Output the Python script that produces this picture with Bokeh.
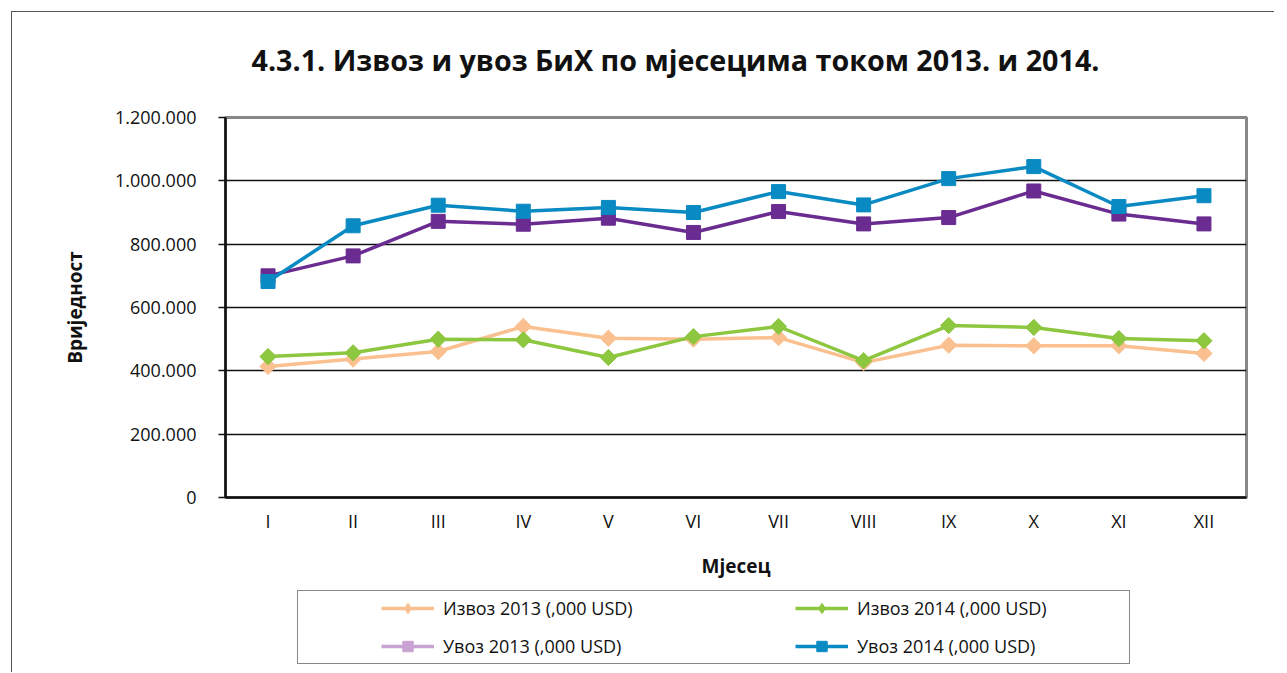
from bokeh.plotting import figure
from bokeh.layouts import column
from bokeh.models import FactorRange, Range1d, FixedTicker, Legend, LegendItem
from bokeh.embed import file_html
from bokeh.resources import INLINE
import numpy as np

# ---- data (thousand USD) ----
months = ["I", "II", "III", "IV", "V", "VI", "VII", "VIII", "IX", "X", "XI", "XII"]
izvoz_2013 = [414000, 437000, 461000, 540000, 503000, 500000, 505000, 426000, 481000, 479000, 479000, 455000]
izvoz_2014 = [445000, 457000, 500000, 498000, 442000, 508000, 540000, 432000, 543000, 537000, 502000, 495000]
uvoz_2013 = [700000, 763000, 872000, 863000, 882000, 837000, 903000, 864000, 884000, 968000, 895000, 864000]
uvoz_2014 = [682000, 858000, 923000, 904000, 916000, 900000, 966000, 924000, 1007000, 1045000, 919000, 953000]
series_names = ["Извоз 2013 (,000 USD)", "Извоз 2014 (,000 USD)", "Увоз 2013 (,000 USD)", "Увоз 2014 (,000 USD)"]
y_ticks = [0, 200000, 400000, 600000, 800000, 1000000, 1200000]
y_tick_labels = ["0", "200.000", "400.000", "600.000", "800.000", "1.000.000", "1.200.000"]

title_text = "4.3.1. Извоз и увоз  БиХ по мјесецима током 2013. и 2014."
FONT = "Open Sans"

C_IZ13 = "#FAC090"
C_IZ14 = "#8DC63F"
C_UV13 = "#6A2C91"
C_UV13_LEG = "#C8A2D0"
C_UV14 = "#0A8AC2"
LW = 3.5
W = 1262
BL, BR = 213, 28


def blank_strip(height):
    f = figure(width=W, height=height, x_range=Range1d(0, 1), y_range=Range1d(0, 1),
               x_axis_type=None, y_axis_type=None,
               output_backend="svg", toolbar_location=None,
               min_border_left=BL, min_border_right=BR, min_border_top=0, min_border_bottom=0)
    f.grid.visible = False
    f.outline_line_color = None
    f.background_fill_color = "white"
    f.border_fill_color = "white"
    return f


# ---------------- title strip ----------------
t = blank_strip(92)
t.title.text = title_text
t.title.align = "left"
t.title.offset = 26
t.title.text_font = FONT
t.title.text_font_style = "bold"
t.title.text_font_size = "28.7px"
t.title.text_color = "#111111"
t.title.standoff = 50

# ---------------- chart ----------------
p = figure(width=W, height=483,
           x_range=FactorRange(*months, range_padding=0),
           y_range=Range1d(0, 1200000),
           output_backend="svg", toolbar_location=None,
           min_border_left=BL, min_border_right=BR,
           min_border_top=13, min_border_bottom=90)
p.title.visible = False

p.background_fill_color = "white"
p.border_fill_color = "white"
p.outline_line_color = "#878787"
p.outline_line_width = 3

p.xgrid.visible = False
p.ygrid.ticker = FixedTicker(ticks=y_ticks[1:-1])
p.ygrid.grid_line_color = "#111111"
p.ygrid.grid_line_width = 1.5

for ax in (p.xaxis[0], p.yaxis[0]):
    ax.axis_line_color = "#111111"
    ax.axis_line_width = 2.5
    ax.major_tick_line_color = "#111111"
    ax.major_tick_line_width = 1.5
    ax.minor_tick_line_color = None
    ax.major_label_text_font = FONT
    ax.major_label_text_font_size = "18px"
    ax.major_label_text_color = "#111111"
    ax.axis_label_text_font = FONT
    ax.axis_label_text_font_style = "bold"
    ax.axis_label_text_font_size = "19px"
    ax.axis_label_text_color = "#111111"

p.xaxis.major_tick_out = 0
p.xaxis.major_tick_in = 0
p.xaxis.major_label_standoff = 11
p.xaxis.axis_label = "Мјесец"
p.xaxis.axis_label_standoff = 17

p.yaxis.ticker = FixedTicker(ticks=y_ticks)
p.yaxis.major_label_overrides = dict(zip(y_ticks, y_tick_labels))
p.yaxis.major_tick_out = 7
p.yaxis.major_tick_in = 0
p.yaxis.major_label_standoff = 22
p.yaxis.axis_label = "Вриједност"
p.yaxis.axis_label_standoff = 24

p.line(months, izvoz_2013, line_color=C_IZ13, line_width=LW)
p.scatter(months, izvoz_2013, marker="square", angle=np.pi / 4, size=11.5,
          fill_color=C_IZ13, line_color=C_IZ13)
p.line(months, izvoz_2014, line_color=C_IZ14, line_width=LW)
p.scatter(months, izvoz_2014, marker="square", angle=np.pi / 4, size=11.5,
          fill_color=C_IZ14, line_color=C_IZ14)
p.line(months, uvoz_2013, line_color=C_UV13, line_width=LW)
p.scatter(months, uvoz_2013, marker="square", size=14,
          fill_color=C_UV13, line_color=C_UV13)
p.line(months, uvoz_2014, line_color=C_UV14, line_width=LW)
p.scatter(months, uvoz_2014, marker="square", size=14,
          fill_color=C_UV14, line_color=C_UV14)

# ---------------- legend strip ----------------
q = blank_strip(85)
q.title.visible = False

leg_colors = [C_IZ13, C_IZ14, C_UV13_LEG, C_UV14]
leg_markers = ["diamond", "diamond", "square", "square"]
NAN = [float("nan")]
items = []
for name, col, mk in zip(series_names, leg_colors, leg_markers):
    rl = q.line(x=NAN, y=NAN, line_color=col, line_width=LW)
    rm = q.scatter(x=NAN, y=NAN, marker=mk, size=10,
                   fill_color=col, line_color=col)
    items.append(LegendItem(label=name, renderers=[rl, rm]))

r_box = q.line(x=NAN, y=NAN, line_alpha=0)
box_legend = Legend(items=[LegendItem(label=" ", renderers=[r_box])],
                    location=(72, 8), padding=0, spacing=0, margin=0,
                    glyph_width=1, glyph_height=72, label_standoff=0,
                    label_width=830, label_height=72,
                    border_line_color="#111111", border_line_width=1.5,
                    background_fill_color="white", background_fill_alpha=1.0)
q.add_layout(box_legend)

legend = Legend(items=items, location=(156, 13), orientation="horizontal", ncols=2,
                padding=0, spacing=12, margin=0,
                glyph_width=53, glyph_height=26, label_standoff=9,
                label_width=340, label_height=26,
                label_text_font=FONT, label_text_font_size="18px", label_text_color="#111111",
                border_line_alpha=0, background_fill_alpha=0)
q.add_layout(legend)

layout = column(t, p, q, spacing=0,
                styles={"margin-left": "11px", "margin-top": "11px",
                        "border-left": "1px solid #555555", "border-top": "1px solid #555555"})

open("out.html", "w").write(file_html(layout, INLINE))
